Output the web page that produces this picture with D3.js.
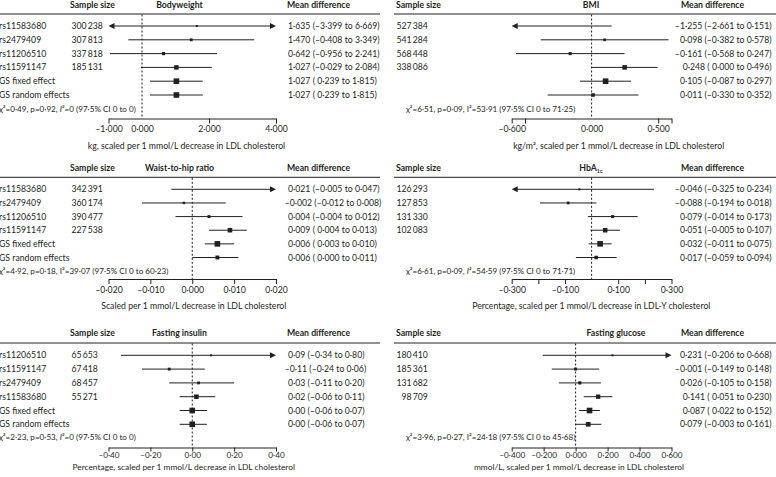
<!DOCTYPE html>
<html><head><meta charset="utf-8">
<script src="https://cdn.jsdelivr.net/npm/d3@7"></script>
<style>
body{margin:0;background:#fff}
svg{display:block;font-family:Lato,"Liberation Sans",sans-serif}
text{fill:#231f20}
</style></head>
<body><svg id="chart" width="776" height="477"></svg>
<script>
// ---------------- DATA ----------------
const rowLabelsTop = ["rs11583680","rs2479409","rs11206510","rs11591147","GS fixed effect","GS random effects"];
const rowLabelsBottom = ["rs11206510","rs11591147","rs2479409","rs11583680","GS fixed effect","GS random effects"];

// Bodyweight
const bwN   = [300238, 307813, 337818, 185131];
const bwEst = [1.635, 1.470, 0.642, 1.027, 1.027, 1.027];
const bwLo  = [-3.399, -0.408, -0.956, -0.029, 0.239, 0.239];
const bwHi  = [6.669, 3.349, 2.241, 2.084, 1.815, 1.815];
const bwHet = [0.49, 0.92, 0, 0, 0];
const bwTicks = [-1, 0, 2, 4];
const bwTickLabels = [-1, 0, 2, 4];

// BMI
const bmiN   = [527384, 541284, 568448, 338086];
const bmiEst = [-1.255, 0.098, -0.161, 0.248, 0.105, 0.011];
const bmiLo  = [-2.661, -0.382, -0.568, 0.000, -0.087, -0.330];
const bmiHi  = [0.151, 0.578, 0.247, 0.496, 0.297, 0.352];
const bmiHet = [6.51, 0.09, 53.91, 0, 71.25];
const bmiTicks = [-0.6, -0.5, 0, 0.5, 0.6];
const bmiTickLabels = [-0.6, 0, 0.5];

// Waist-to-hip ratio
const whrN   = [342391, 360174, 390477, 227538];
const whrEst = [0.021, -0.002, 0.004, 0.009, 0.006, 0.006];
const whrLo  = [-0.005, -0.012, -0.004, 0.004, 0.003, 0.000];
const whrHi  = [0.047, 0.008, 0.012, 0.013, 0.010, 0.011];
const whrHet = [4.92, 0.18, 39.07, 0, 60.23];
const whrTicks = [-0.02, -0.01, 0, 0.01, 0.02];
const whrTickLabels = [-0.02, -0.01, 0, 0.01, 0.02];

// HbA1c
const hbaN   = [126293, 127853, 131330, 102083];
const hbaEst = [-0.046, -0.088, 0.079, 0.051, 0.032, 0.017];
const hbaLo  = [-0.325, -0.194, -0.014, -0.005, -0.011, -0.059];
const hbaHi  = [0.234, 0.018, 0.173, 0.107, 0.075, 0.094];
const hbaHet = [6.61, 0.09, 54.59, 0, 71.71];
const hbaTicks = [-0.3, -0.2, -0.1, 0, 0.1, 0.2, 0.3];
const hbaTickLabels = [-0.3, -0.1, 0.1, 0.3];

// Fasting insulin
const insN   = [65653, 67418, 68457, 55271];
const insEst = [0.09, -0.11, 0.03, 0.02, 0.00, 0.00];
const insLo  = [-0.34, -0.24, -0.11, -0.06, -0.06, -0.06];
const insHi  = [0.80, 0.06, 0.20, 0.11, 0.07, 0.07];
const insHet = [2.23, 0.53, 0, 0, 0];
const insTicks = [-0.4, -0.2, 0, 0.2, 0.4];
const insTickLabels = [-0.4, -0.2, 0, 0.2, 0.4];

// Fasting glucose
const gluN   = [180410, 185361, 131682, 98709];
const gluEst = [0.231, -0.001, 0.026, 0.141, 0.087, 0.079];
const gluLo  = [-0.206, -0.149, -0.105, 0.051, 0.022, -0.003];
const gluHi  = [0.668, 0.148, 0.158, 0.230, 0.152, 0.161];
const gluHet = [3.96, 0.27, 24.18, 0, 45.68];
const gluTicks = [-0.4, -0.2, 0, 0.2, 0.4, 0.6];
const gluTickLabels = [-0.4, -0.2, 0, 0.2, 0.4, 0.6];

// ---------------- LAYOUT ----------------
const FS = 8.7;
const CHI_FS = 8.1;
const cols = [
  {nX:71.5, labelX:-1, range:[108.5,276], meanX:288, anchor:"start", lineX:[0,380], headN:70, headMean:287, chiX:-1},
  {nX:396.5, labelX:null, range:[511.7,671.5], meanX:771.5, anchor:"end", lineX:[394,776], headN:396, headMean:681, chiX:406}
];
const rowsL = [
  {head:4.6, line:14, r:[26,95], chi:109.3, axis:118.5, tick:5, pad:2.5, title:145.7, titleFS:FS},
  {head:168.3, line:177.3, r:[189.3,257.5], chi:270.7, axis:279, tick:5, pad:2.5, title:306.2, titleFS:FS},
  {head:333, line:343, r:[355.3,424.3], chi:437.4, axis:447.5, tick:4, pad:0.2, title:467.2, titleFS:8.4}
];

const panels = [
  {col:0,row:0,title:"Bodyweight",titleX:179.5,labels:rowLabelsTop,n:bwN,est:bwEst,lo:bwLo,hi:bwHi,dec:3,domain:[-1,4],ticks:bwTicks,tickLabels:bwTickLabels,het:bwHet,axisTitle:"kg, scaled per 1 mmol/L decrease in LDL cholesterol",axisTitleX:186.5,zeroTick:false,italicI:true},
  {col:1,row:0,title:"BMI",titleX:591,labels:null,n:bmiN,est:bmiEst,lo:bmiLo,hi:bmiHi,dec:3,domain:[-0.6,0.6],ticks:bmiTicks,tickLabels:bmiTickLabels,het:bmiHet,axisTitle:"kg/m², scaled per 1 mmol/L decrease in LDL cholesterol",axisTitleX:618.7,zeroTick:false,italicI:false},
  {col:0,row:1,title:"Waist-to-hip ratio",titleX:179.5,labels:rowLabelsTop,n:whrN,est:whrEst,lo:whrLo,hi:whrHi,dec:3,domain:[-0.02,0.02],ticks:whrTicks,tickLabels:whrTickLabels,het:whrHet,axisTitle:"Scaled per 1 mmol/L decrease in LDL cholesterol",axisTitleX:193.8,zeroTick:true,italicI:false},
  {col:1,row:1,title:"HbA1c",titleX:591,labels:null,n:hbaN,est:hbaEst,lo:hbaLo,hi:hbaHi,dec:3,domain:[-0.3,0.3],ticks:hbaTicks,tickLabels:hbaTickLabels,het:hbaHet,axisTitle:"Percentage, scaled per 1 mmol/L decrease in LDL-Y cholesterol",axisTitleX:591.3,zeroTick:false,italicI:true},
  {col:0,row:2,title:"Fasting insulin",titleX:179.5,labels:rowLabelsBottom,n:insN,est:insEst,lo:insLo,hi:insHi,dec:2,domain:[-0.4,0.4],ticks:insTicks,tickLabels:insTickLabels,het:insHet,axisTitle:"Percentage, scaled per 1 mmol/L decrease in LDL cholesterol",axisTitleX:183.7,zeroTick:true,italicI:true},
  {col:1,row:2,title:"Fasting glucose",titleX:616,labels:null,n:gluN,est:gluEst,lo:gluLo,hi:gluHi,dec:3,domain:[-0.4,0.6],ticks:gluTicks,tickLabels:gluTickLabels,het:gluHet,axisTitle:"mmol/L, scaled per 1 mmol/L decrease in LDL cholesterol",axisTitleX:579,zeroTick:true,italicI:false}
];

// ---------------- HELPERS ----------------
const DASH = "\u2013";
function num(v, d){ const s = Math.abs(v).toFixed(d).replace(".", "\u00b7"); return (v < 0 ? DASH : "") + s; }
function lowFmt(v, d){ return v < 0 ? num(v, d) : " " + num(v, d); }
function hetNum(v){ return v === 0 ? "0" : v.toFixed(2).replace(".", "\u00b7"); }
function nFmt(n){ const s = String(n); return s.length > 3 ? s.slice(0, s.length-3) + "\u2009" + s.slice(-3) : s; }

const svg = d3.select("#chart");
svg.append("rect").attr("width",776).attr("height",477).attr("fill","#fff");
const INK = "#231f20";

panels.forEach(p => {
  const C = cols[p.col], R = rowsL[p.row];
  const g = svg.append("g");
  const x = d3.scaleLinear().domain(p.domain).range(C.range);
  const y = d3.scalePoint().domain(d3.range(6)).range(R.r);

  // header
  g.append("text").attr("x", C.headN).attr("y", R.head).attr("dy","0.35em")
    .attr("font-size", FS).attr("font-weight", 700).text("Sample size");
  const ht = g.append("text").attr("x", p.titleX).attr("y", R.head).attr("dy","0.35em")
    .attr("text-anchor","middle").attr("font-size", FS).attr("font-weight", 700);
  if (p.title === "HbA1c") {
    ht.append("tspan").text("HbA");
    ht.append("tspan").attr("font-size", 5.5).attr("dy", 2).text("1c");
  } else ht.text(p.title);
  g.append("text").attr("x", C.headMean).attr("y", R.head).attr("dy","0.35em")
    .attr("font-size", FS).attr("font-weight", 700).text("Mean difference");
  g.append("line").attr("x1", C.lineX[0]).attr("x2", C.lineX[1])
    .attr("y1", R.line).attr("y2", R.line).attr("stroke", INK).attr("stroke-width", 1);

  // zero line
  g.append("line").attr("x1", x(0)).attr("x2", x(0)).attr("y1", R.line + 0.5).attr("y2", R.axis)
    .attr("stroke", INK).attr("stroke-width", 1).attr("stroke-dasharray", "2,2");

  // row labels & sample sizes
  if (p.labels) {
    g.selectAll("text.lab").data(p.labels).join("text").attr("class","lab")
      .attr("x", C.labelX).attr("y", (d,i) => y(i)).attr("dy","0.35em").attr("font-size", FS).text(d => d);
  }
  g.selectAll("text.n").data(p.n).join("text").attr("class","n")
    .attr("x", C.nX).attr("y", (d,i) => y(i)).attr("dy","0.35em").attr("font-size", FS)
    .text(d => { const s = nFmt(d); return (p.col === 1 && String(d).length < 6) ? "\u2007" + s : s; });

  // CI lines, arrows, boxes
  const fixedW = p.hi[4] - p.lo[4];
  const [d0, d1] = p.domain;
  p.est.forEach((e, i) => {
    const yy = y(i);
    const a = Math.max(p.lo[i], d0), b = Math.min(p.hi[i], d1);
    const xa = x(a), xb = x(b);
    g.append("line").attr("x1", xa + (p.lo[i] < d0 ? 4 : 0)).attr("x2", xb - (p.hi[i] > d1 ? 4 : 0))
      .attr("y1", yy).attr("y2", yy).attr("stroke", INK).attr("stroke-width", 1);
    if (p.lo[i] < d0) g.append("path").attr("d", `M${xa},${yy}l6,-3v6z`).attr("fill", INK);
    if (p.hi[i] > d1) g.append("path").attr("d", `M${xb},${yy}l-6,-3v6z`).attr("fill", INK);
    if (e >= d0 && e <= d1) {
      const w = p.hi[i] - p.lo[i];
      const s = Math.max(2, 5.6 * Math.pow(fixedW / w, 0.8));
      g.append("rect").attr("x", x(e) - s/2).attr("y", yy - s/2).attr("width", s).attr("height", s).attr("fill", INK);
    }
  });

  // mean difference text
  g.selectAll("text.md").data(p.est).join("text").attr("class","md")
    .attr("x", (d,i) => C.anchor === "start" ? C.meanX - (d < 0 ? 3.3 : 0) : C.meanX)
    .attr("y", (d,i) => y(i)).attr("dy","0.35em").attr("font-size", FS).attr("text-anchor", C.anchor)
    .text((d,i) => `${num(d, p.dec)} (${lowFmt(p.lo[i], p.dec)} to ${num(p.hi[i], p.dec)})`);

  // heterogeneity
  const h = p.het;
  const ct = g.append("text").attr("x", C.chiX).attr("y", R.chi).attr("dy","0.35em").attr("font-size", CHI_FS);
  ct.append("tspan").text(`\u03c7\u00b2=${hetNum(h[0])}, p=${hetNum(h[1])}, `);
  ct.append("tspan").attr("font-style", p.italicI ? "italic" : "normal").text("I");
  ct.append("tspan").text(`\u00b2=${hetNum(h[2])} (97\u00b75% CI ${hetNum(h[3])} to ${hetNum(h[4])})`);

  // axis
  const isLab = v => p.tickLabels.some(t => Math.abs(t - v) < 1e-9);
  const axis = d3.axisBottom(x).tickValues(p.ticks)
    .tickFormat(v => isLab(v) ? num(v, p.dec) : "")
    .tickSize(R.tick).tickSizeOuter(0).tickPadding(R.pad);
  const ag = g.append("g").attr("transform", `translate(0,${R.axis})`).call(axis);
  ag.attr("font-size", p.row === 2 ? 8.2 : FS).attr("font-family", null);
  ag.select(".domain").attr("stroke", INK);
  ag.selectAll(".tick line").attr("stroke", INK);
  ag.selectAll(".tick text").attr("fill", INK);
  if (!p.zeroTick) ag.selectAll(".tick").filter(d => Math.abs(d) < 1e-12).select("line").remove();

  // axis title
  g.append("text").attr("x", p.axisTitleX).attr("y", R.title).attr("dy","0.35em")
    .attr("text-anchor","middle").attr("font-size", R.titleFS).text(p.axisTitle);
});
</script></body></html>
